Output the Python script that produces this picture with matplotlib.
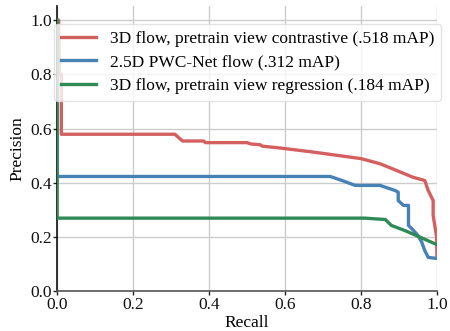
import matplotlib
matplotlib.use("Agg")
import matplotlib.pyplot as plt

# Data
red_label = "3D flow, pretrain view contrastive (.518 mAP)"
red_recall = [0.0, 0.004, 0.006, 0.011, 0.011, 0.31, 0.33, 0.386, 0.39, 0.50, 0.51, 0.535, 0.54,
              0.588, 0.675, 0.80, 0.85, 0.894, 0.937, 0.968, 0.977, 0.99, 0.99, 0.999, 1.0]
red_prec = [1.0, 1.0, 0.8, 0.8, 0.579, 0.579, 0.554, 0.554, 0.548, 0.548, 0.543, 0.540, 0.535,
            0.528, 0.513, 0.489, 0.47, 0.445, 0.42, 0.408, 0.371, 0.334, 0.279, 0.20, 0.124]

blue_label = "2.5D PWC-Net flow (.312 mAP)"
blue_recall = [0.0, 0.0, 0.006, 0.719, 0.75, 0.785, 0.85, 0.89, 0.898, 0.898, 0.912, 0.925, 0.925,
               0.934, 0.95, 0.96, 0.968, 0.977, 1.0]
blue_prec = [1.0, 0.423, 0.423, 0.423, 0.408, 0.39, 0.39, 0.371, 0.365, 0.334, 0.316, 0.316, 0.242,
             0.23, 0.205, 0.18, 0.149, 0.124, 0.12]

green_label = "3D flow, pretrain view regression (.184 mAP)"
green_recall = [0.0, 0.0, 0.81, 0.864, 0.88, 0.916, 0.955, 1.0]
green_prec = [1.0, 0.269, 0.269, 0.264, 0.242, 0.223, 0.199, 0.171]

x_ticks = [0.0, 0.2, 0.4, 0.6, 0.8, 1.0]
y_ticks = [0.0, 0.2, 0.4, 0.6, 0.8, 1.0]

plt.rcParams['font.family'] = ['Liberation Serif', 'DejaVu Serif']
plt.rcParams['font.size'] = 12.5

fig = plt.figure(figsize=(4.5, 3.31), dpi=100)
ax = fig.add_axes([0.127, 0.121, 0.844, 0.861])

ax.grid(True, color='#cccccc', linewidth=1.0, zorder=0)
ax.set_axisbelow(True)

lw = 2.4
ax.plot(red_recall, red_prec, color='#d45f5f', lw=lw, label=red_label, zorder=3)
ax.plot(blue_recall, blue_prec, color='#4682b4', lw=lw, label=blue_label, zorder=3)
ax.plot(green_recall, green_prec, color='#2e8b57', lw=lw, label=green_label, zorder=3)

ax.set_xlim(0, 1.0)
ax.set_ylim(0, 1.053)
ax.set_xticks(x_ticks)
ax.set_yticks(y_ticks)
ax.set_xticklabels([f"{t:.1f}" for t in x_ticks])
ax.set_yticklabels([f"{t:.1f}" for t in y_ticks])
ax.tick_params(direction='out', length=3, width=1, pad=1, labelsize=12.5, colors='#222222')
ax.tick_params(labelcolor='#111111')

for s in ['top', 'right']:
    ax.spines[s].set_visible(False)
ax.spines['left'].set_color('#111111')
ax.spines['bottom'].set_color('#555555')
ax.spines['left'].set_linewidth(1.2)
ax.spines['bottom'].set_linewidth(1.2)

ax.set_xlabel("Recall", fontsize=12.5, labelpad=2)
ax.set_ylabel("Precision", fontsize=12.5, labelpad=3)

leg = ax.legend(loc='upper left', bbox_to_anchor=(-0.008, 0.937), borderaxespad=0.0,
                frameon=True, fontsize=12.5, handlelength=2.0, labelspacing=0.42,
                borderpad=0.4, fancybox=True)
leg.get_frame().set_edgecolor('#dddddd')
leg.get_frame().set_alpha(0.8)

fig.savefig("out.png", dpi=100)
